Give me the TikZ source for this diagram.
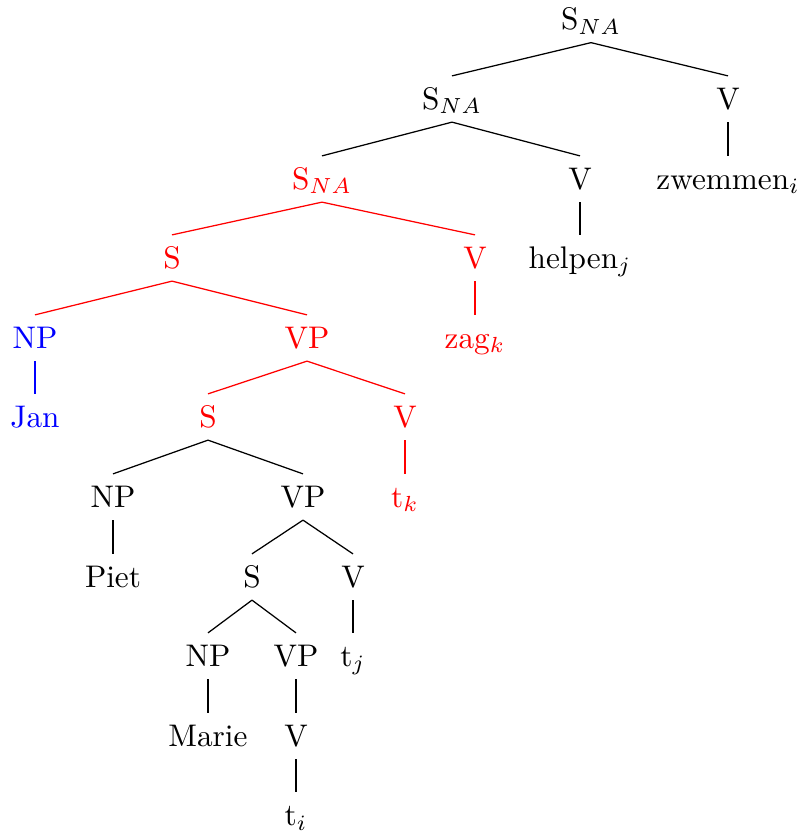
\documentclass[tikz,border=0pt]{standalone}
\tikzset{every picture/.style={line width=0.4pt}}
\tikzset{
  cat/.style={anchor=base,text height=7pt,text depth=0.6pt,inner xsep=1pt,inner ysep=3.4pt},
  hl/.style={cat,text=red},
  hlnp/.style={cat,text=blue},
}

\begin{document}
\begin{tikzpicture}[x=0.32pt,y=0.32pt,yscale=-1,xscale=1]
	\useasboundingbox (0,0) rectangle (803,836);

	% Text Node
	\draw (591,29.5) node [cat] (sna1) {S$_{NA}$};
	% Text Node
	\draw (452,109) node [cat] (sna2) {S$_{NA}$};
	\draw (728,109) node [cat] (v1) {V};
	% Text Node
	\draw (322,189) node [hl] (sna3) {S$_{NA}$};
	\draw (580,189) node [cat] (v2) {V};
	\draw (728,189) node [cat] (zwem) {zwemmen$_i$};
	% Text Node
	\draw (172,268) node [hl] (s1) {S};
	\draw (475,268) node [hl] (v3) {V};
	\draw (580,268) node [cat] (helpen) {helpen$_j$};
	% Text Node
	\draw (35,348) node [hlnp] (np1) {NP};
	\draw (307,348) node [hl] (vp1) {VP};
	\draw (475,348) node [hl] (zag) {zag$_k$};
	% Text Node
	\draw (35,427) node [hlnp] (jan) {Jan};
	\draw (208,427) node [hl] (s2) {S};
	\draw (405,427) node [hl] (v4) {V};
	% Text Node
	\draw (113,507) node [cat] (np2) {NP};
	\draw (303,507) node [cat] (vp2) {VP};
	\draw (405,507) node [hl] (tk) {t$_k$};
	% Text Node
	\draw (113,587) node [cat] (piet) {Piet};
	\draw (252,587) node [cat] (s3) {S};
	\draw (353,587) node [cat] (v5) {V};
	% Text Node
	\draw (208,666) node [cat] (np3) {NP};
	\draw (296,666) node [cat] (vp3) {VP};
	\draw (353,666) node [cat] (tj) {t$_j$};
	% Text Node
	\draw (208,746) node [cat] (marie) {Marie};
	\draw (296,746) node [cat] (v6) {V};
	% Text Node
	\draw (296,825.5) node [cat] (ti) {t$_i$};

	%Straight Lines
	\draw (sna1.south) -- (sna2.north) ;
	\draw (sna1.south) -- (v1.north) ;
	\draw (v1.south) -- (zwem.north) ;
	\draw (sna2.south) -- (sna3.north) ;
	\draw (sna2.south) -- (v2.north) ;
	\draw (v2.south) -- (helpen.north) ;
	%Straight Lines (red part)
	\draw [red] (sna3.south) -- (s1.north) ;
	\draw [red] (sna3.south) -- (v3.north) ;
	\draw [red] (v3.south) -- (zag.north) ;
	\draw [red] (s1.south) -- (np1.north) ;
	\draw [red] (s1.south) -- (vp1.north) ;
	\draw [blue] (np1.south) -- (jan.north) ;
	\draw [red] (vp1.south) -- (s2.north) ;
	\draw [red] (vp1.south) -- (v4.north) ;
	\draw [red] (v4.south) -- (tk.north) ;
	%Straight Lines
	\draw (s2.south) -- (np2.north) ;
	\draw (s2.south) -- (vp2.north) ;
	\draw (np2.south) -- (piet.north) ;
	\draw (vp2.south) -- (s3.north) ;
	\draw (vp2.south) -- (v5.north) ;
	\draw (v5.south) -- (tj.north) ;
	\draw (s3.south) -- (np3.north) ;
	\draw (s3.south) -- (vp3.north) ;
	\draw (np3.south) -- (marie.north) ;
	\draw (vp3.south) -- (v6.north) ;
	\draw (v6.south) -- (ti.north) ;

\end{tikzpicture}
\end{document}
